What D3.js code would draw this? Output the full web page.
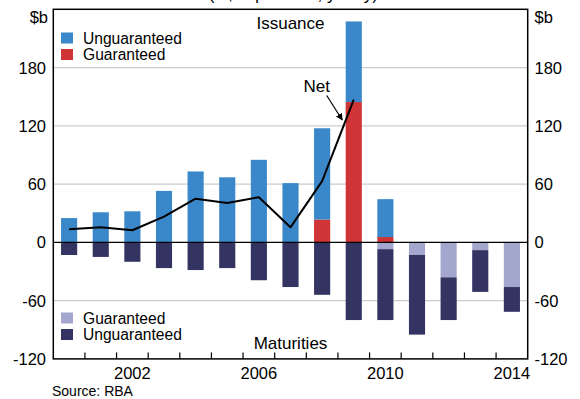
<!DOCTYPE html>
<html>
<head>
<meta charset="utf-8">
<script src="https://cdn.jsdelivr.net/npm/d3@7"></script>
<style>
  html, body { margin: 0; padding: 0; background: #fff; }
  svg { display: block; font-family: "Liberation Sans", Arial, Helvetica, sans-serif; }
</style>
</head>
<body>
<svg id="chart" width="580" height="399"></svg>
<script>
// Annual bond issuance (positive) and maturities (negative), $b
const years = [2000, 2001, 2002, 2003, 2004, 2005, 2006, 2007, 2008, 2009, 2010, 2011, 2012, 2013, 2014];
const issueUnguaranteed = [25, 31, 32, 53, 73, 67, 85, 61, 94, 83, 39, 0, 0, 0, 0];
const issueGuaranteed   = [0, 0, 0, 0, 0, 0, 0, 0, 23.5, 144.5, 5.5, 0, 0, 0, 0];
const maturGuaranteed   = [0, 0, 0, 0, 0, 0, 0, 0, 0, 0, -7, -13, -36, -8, -46];
const maturUnguaranteed = [-13, -15, -20, -26.5, -28.5, -26.5, -39, -46, -54, -80, -73, -82, -44, -43, -25.5];
const netYears = [2000, 2001, 2002, 2003, 2004, 2005, 2006, 2007, 2008, 2009];
const netValues = [13.5, 15.5, 12.5, 26.5, 45, 40.5, 46.5, 15.5, 63, 147];
const yTicks = [-120, -60, 0, 60, 120, 180];
const xLabels = [2002, 2006, 2010, 2014];

const colors = {
  issueUng: "#3a88c9",
  issueGua: "#cf3437",
  matGua: "#a3a6cd",
  matUng: "#343463"
};

const svg = d3.select("#chart");
const plotL = 53.3, plotR = 527.7, plotT = 9.3, plotB = 358.9;

const x = d3.scaleBand().domain(years).range([plotL, plotR]).padding(0);
const y = d3.scaleLinear().domain([-120, 240]).range([plotB, plotT]);
const barW = x.bandwidth() * 0.51;
const barX = yr => x(yr) + (x.bandwidth() - barW) / 2;
const mid = yr => x(yr) + x.bandwidth() / 2;

// gridlines
svg.append("g").selectAll("line")
  .data(yTicks.filter(v => v !== 0 && v !== -120))
  .join("line")
  .attr("x1", plotL).attr("x2", plotR)
  .attr("y1", d => y(d)).attr("y2", d => y(d))
  .attr("stroke", "#cccccc").attr("stroke-width", 1.2);

// stacked bars
const rows = years.map((yr, i) => ({
  year: yr,
  issueGua: issueGuaranteed[i],
  issueUng: issueUnguaranteed[i],
  matGua: maturGuaranteed[i],
  matUng: maturUnguaranteed[i]
}));

const stack = d3.stack()
  .keys(["issueGua", "issueUng", "matGua", "matUng"])
  .offset(d3.stackOffsetDiverging);
const series = stack(rows);

svg.append("g").selectAll("g")
  .data(series)
  .join("g")
  .attr("fill", s => colors[s.key])
  .selectAll("rect")
  .data(s => s.filter(d => d[1] - d[0] !== 0))
  .join("rect")
  .attr("x", d => barX(d.data.year))
  .attr("width", barW)
  .attr("y", d => y(Math.max(d[0], d[1])))
  .attr("height", d => Math.abs(y(d[0]) - y(d[1])));

// zero line
svg.append("line")
  .attr("x1", plotL).attr("x2", plotR)
  .attr("y1", y(0)).attr("y2", y(0))
  .attr("stroke", "#000").attr("stroke-width", 1.3);

// net line
const line = d3.line().x((d, i) => mid(netYears[i])).y(d => y(d));
svg.append("path")
  .datum(netValues)
  .attr("d", line)
  .attr("fill", "none")
  .attr("stroke", "#000")
  .attr("stroke-width", 2)
  .attr("stroke-linejoin", "round");

// frame
svg.append("rect")
  .attr("x", plotL).attr("y", plotT)
  .attr("width", plotR - plotL).attr("height", plotB - plotT)
  .attr("fill", "none").attr("stroke", "#000").attr("stroke-width", 1.5);

// x ticks between years
svg.append("g").selectAll("line")
  .data(years.slice(1))
  .join("line")
  .attr("x1", d => x(d)).attr("x2", d => x(d))
  .attr("y1", plotB).attr("y2", plotB - 6.5)
  .attr("stroke", "#000").attr("stroke-width", 1.2);

// x labels
svg.append("g").selectAll("text")
  .data(xLabels)
  .join("text")
  .attr("x", d => mid(d)).attr("y", 379)
  .attr("text-anchor", "middle")
  .attr("font-size", 16.5)
  .text(d => d);

// y labels both sides
const yl = svg.append("g").attr("font-size", 16.5);
yl.selectAll("text.l")
  .data(yTicks).join("text").attr("class", "l")
  .attr("x", 46).attr("y", d => y(d) + 6)
  .attr("text-anchor", "end")
  .text(d => d);
yl.selectAll("text.r")
  .data(yTicks).join("text").attr("class", "r")
  .attr("x", 534.5).attr("y", d => y(d) + 6)
  .attr("text-anchor", "start")
  .text(d => d);
yl.append("text").attr("x", 48).attr("y", 22.5).attr("text-anchor", "end").text("$b");
yl.append("text").attr("x", 534.5).attr("y", 22.5).attr("text-anchor", "start").text("$b");

// title (runs off the top edge)
svg.append("text")
  .attr("x", 378).attr("y", 0)
  .attr("text-anchor", "end")
  .attr("font-size", 17)
  .text("(A$ equivalent, yearly)");

// section labels
const cx = (plotL + plotR) / 2;
svg.append("text").attr("x", cx).attr("y", 29).attr("text-anchor", "middle")
  .attr("font-size", 17).text("Issuance");
svg.append("text").attr("x", cx).attr("y", 349).attr("text-anchor", "middle")
  .attr("font-size", 17).text("Maturities");

// legends
function legend(items, y0) {
  const g = svg.append("g").attr("font-size", 15.6);
  items.forEach((it, i) => {
    g.append("rect").attr("x", 61).attr("y", y0 + i * 16.5)
      .attr("width", 12).attr("height", 11).attr("fill", it.color);
    g.append("text").attr("x", 83).attr("y", y0 + i * 16.5 + 11)
      .text(it.label);
  });
}
legend([
  { label: "Unguaranteed", color: colors.issueUng },
  { label: "Guaranteed", color: colors.issueGua }
], 32.5);
legend([
  { label: "Guaranteed", color: colors.matGua },
  { label: "Unguaranteed", color: colors.matUng }
], 312.5);

// net annotation with arrow
const defs = svg.append("defs");
defs.append("marker")
  .attr("id", "arrowhead")
  .attr("viewBox", "0 0 10 10")
  .attr("refX", 9).attr("refY", 5)
  .attr("markerWidth", 7).attr("markerHeight", 7)
  .attr("markerUnits", "userSpaceOnUse")
  .attr("orient", "auto")
  .append("path").attr("d", "M0,0 L10,5 L0,10 Z").attr("fill", "#000");

const tipX = mid(2009) - 11.5, tipY = y(126);
svg.append("line")
  .attr("x1", tipX - 15.5).attr("y1", tipY - 24.5)
  .attr("x2", tipX).attr("y2", tipY)
  .attr("stroke", "#000").attr("stroke-width", 1.2)
  .attr("marker-end", "url(#arrowhead)");
svg.append("text")
  .attr("x", tipX - 25.5).attr("y", 91.5)
  .attr("text-anchor", "middle")
  .attr("font-size", 17)
  .text("Net");

// source note
svg.append("text").attr("x", 52).attr("y", 396)
  .attr("font-size", 14).text("Source: RBA");
</script>
</body>
</html>
